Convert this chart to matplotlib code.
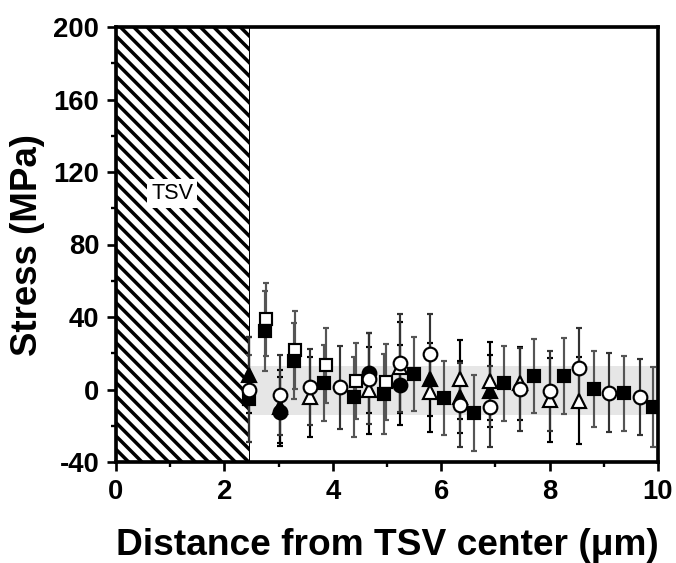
import matplotlib
matplotlib.use("Agg")
import matplotlib.pyplot as plt
from matplotlib.patches import Rectangle

plt.rcParams["font.family"] = ["Liberation Sans", "DejaVu Sans"]
plt.rcParams["hatch.linewidth"] = 2.1
plt.rcParams["axes.unicode_minus"] = False

# ---- data ----
tsv_edge = 2.45
band_lo, band_hi = -14, 13

sq_fill_x = [2.45, 2.74, 3.28, 3.84, 4.39, 4.94, 5.50, 6.05, 6.61, 7.16, 7.71, 8.27, 8.82, 9.37, 9.91]
sq_fill_y = [-5, 32.4, 15.9, 3.4, -4.3, -2.5, 8.6, -4.5, -13.2, 3.4, 7.6, 7.6, 0.1, -2.1, -9.5]
sq_fill_e = [24, 22, 21, 21, 22, 22, 20.6, 20.5, 21, 20.6, 20.5, 21, 21, 20.7, 22]

sq_open_x = [2.76, 3.31, 3.87, 4.43, 4.98]
sq_open_y = [38.7, 21.8, 13.3, 4.9, 4.3]
sq_open_e = [20, 21.7, 20.7, 21, 21]

ci_open_x = [2.45, 3.02, 3.58, 4.13, 4.67, 5.24, 5.79, 6.35, 6.90, 7.45, 8.01, 8.55, 9.10, 9.67]
ci_open_y = [0, -3, 1.6, 1.2, 6, 14.8, 19.6, -8.6, -9.5, 0.1, -0.8, 11.7, -1.7, -4.3]
ci_open_e = [29, 22, 21, 23, 25, 27, 22, 23, 22.4, 23, 22, 22, 22, 21]

ci_fill_x = [3.02, 4.67, 5.24]
ci_fill_y = [-12.2, 8.9, 2.5]
ci_fill_e = [19, 22, 22]

tr_fill_x = [2.45, 3.02, 5.79, 6.35, 6.90]
tr_fill_y = [8, -9.5, 5.6, -4, -0.8]
tr_fill_e = [21, 20, 20, 20, 20]

tr_open_x = [3.58, 4.67, 5.24, 5.79, 6.35, 6.90, 7.45, 8.01, 8.55]
tr_open_y = [-4, -0.3, 12.2, -1.2, 5.6, 4.9, 3.4, -5.8, -6.2]
tr_open_e = [22, 24, 25, 22, 21.7, 21.5, 20, 23, 24]

fig = plt.figure(figsize=(676 / 120, 563 / 120), dpi=120)
ax = fig.add_axes([116 / 676, 1 - 462 / 563, (658 - 116) / 676, (462 - 27) / 563])

# TSV hatched region and the grey scatter band
ax.add_patch(Rectangle((0, -40), tsv_edge, 240, facecolor="white",
                       edgecolor="black", hatch="\\\\\\", lw=0.6, zorder=1))
ax.fill_between([tsv_edge, 10], band_lo, band_hi, color="#e6e6e6", lw=0, zorder=0)
ax.text(1.04, 108, "TSV", fontsize=13, ha="center", va="center", zorder=3,
        bbox=dict(facecolor="white", edgecolor="none", pad=2.5))

common = dict(ls="none", capsize=1.6, elinewidth=1.3, capthick=1.0,
              mew=1.3, zorder=4)
ax.errorbar(sq_open_x, sq_open_y, yerr=sq_open_e, marker="s", ms=7.4,
            mfc="white", mec="black", ecolor="#555555", **common)
ax.errorbar(sq_fill_x, sq_fill_y, yerr=sq_fill_e, marker="s", ms=7.4,
            mfc="black", mec="black", ecolor="#555555", **common)
ax.errorbar(ci_fill_x, ci_fill_y, yerr=ci_fill_e, marker="o", ms=8.2,
            mfc="black", mec="black", ecolor="black", **common)
ax.errorbar(tr_fill_x, tr_fill_y, yerr=tr_fill_e, marker="^", ms=8.7,
            mfc="black", mec="black", ecolor="black", **common)
ax.errorbar(tr_open_x, tr_open_y, yerr=tr_open_e, marker="^", ms=8.7,
            mfc="white", mec="black", ecolor="black", **common)
ax.errorbar(ci_open_x, ci_open_y, yerr=ci_open_e, marker="o", ms=8.2,
            mfc="white", mec="black", ecolor="#333333", **common)

ax.set_xlim(0, 10)
ax.set_ylim(-40, 200)
ax.set_xticks(range(0, 11, 2))
ax.set_xticks(range(1, 10, 2), minor=True)
ax.set_yticks(range(-40, 201, 40))
ax.set_yticks(range(-20, 200, 40), minor=True)
ax.tick_params(which="major", direction="out", length=5.5, width=1.6,
               labelsize=16.5, pad=4.5)
ax.tick_params(which="minor", direction="out", length=3, width=1.4)
for lab in ax.get_xticklabels() + ax.get_yticklabels():
    lab.set_fontweight("bold")
for sp in ax.spines.values():
    sp.set_linewidth(2.2)
    sp.set_zorder(6)

ax.set_xlabel("Distance from TSV center (\u03bcm)", fontsize=22.3,
              fontweight="bold", labelpad=14)
ax.set_ylabel("Stress (MPa)", fontsize=22, fontweight="bold", labelpad=5)

fig.savefig("out.png", dpi=120)
